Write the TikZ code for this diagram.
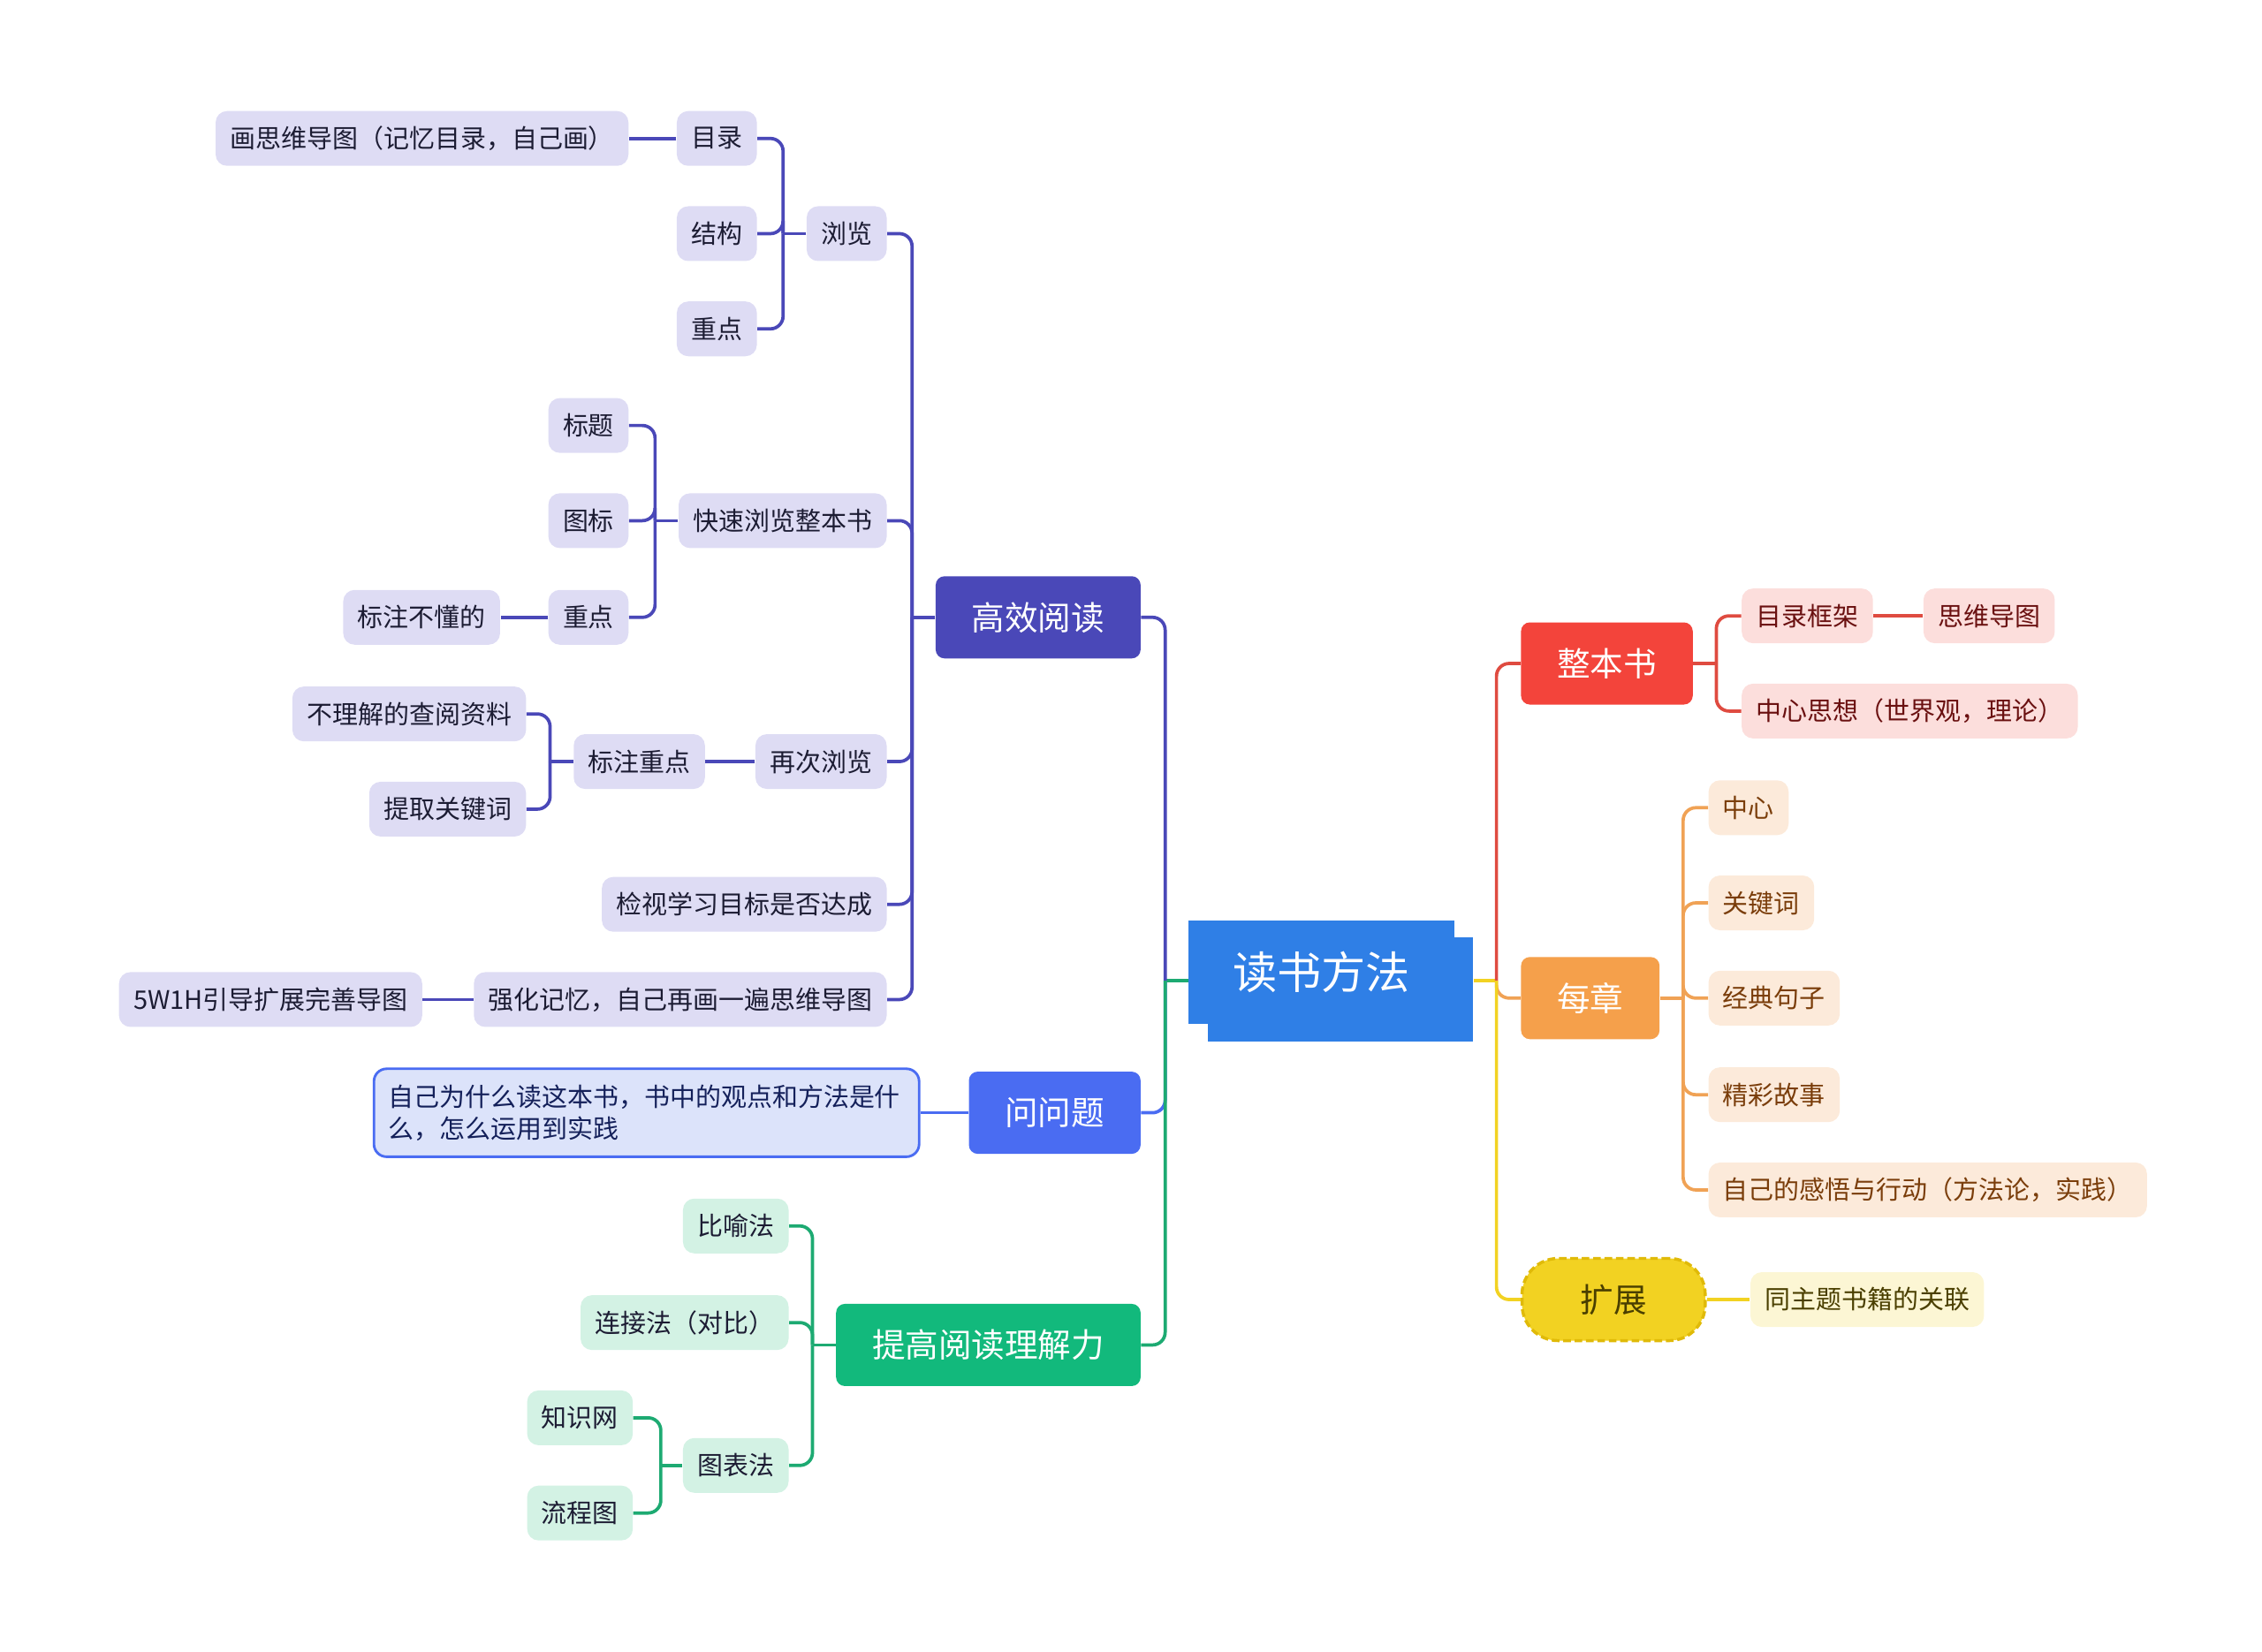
\documentclass[tikz,border=0pt]{standalone}
\usepackage{fontspec}
\setmainfont{Noto Sans CJK SC}
\usetikzlibrary{positioning, shadows}
\definecolor{mmroot}{HTML}{2F7FE6}
\definecolor{mmindigo}{HTML}{4A48B8}
\definecolor{mmindigolt}{HTML}{DEDCF4}
\definecolor{mmblue}{HTML}{4A6CF2}
\definecolor{mmbluelt}{HTML}{DCE3FA}
\definecolor{mmbluetx}{HTML}{14205A}
\definecolor{mmgreen}{HTML}{12B97C}
\definecolor{mmgreenln}{HTML}{1DAA72}
\definecolor{mmgreenlt}{HTML}{D3F2E4}
\definecolor{mmred}{HTML}{F3443B}
\definecolor{mmredln}{HTML}{DF4B40}
\definecolor{mmredlt}{HTML}{FCDEDC}
\definecolor{mmredtx}{HTML}{6A1010}
\definecolor{mmorange}{HTML}{F5A04B}
\definecolor{mmorangeln}{HTML}{F0A255}
\definecolor{mmorangelt}{HTML}{FCEADA}
\definecolor{mmorangetx}{HTML}{7A3D0A}
\definecolor{mmyellow}{HTML}{F2D222}
\definecolor{mmyellowdk}{HTML}{E0BA08}
\definecolor{mmyellowlt}{HTML}{FCF6D4}
\definecolor{mmyellowtx}{HTML}{4A3F00}
\definecolor{mmtext}{HTML}{1C1C33}

\begin{document}
\begin{tikzpicture}[x=0.02cm, y=-0.02cm,
    rootnode/.style={fill=mmroot, text=white, font=\fontsize{17.5}{20}\selectfont,
                     minimum width=3.68cm, minimum height=1.44cm,
                     general shadow={shadow xshift=0.26cm, shadow yshift=-0.24cm, fill=mmroot}},
    mainnode/.style={rounded corners=3.5pt, text=white, font=\fontsize{13.1}{15}\selectfont,
                     minimum height=1.14cm, inner xsep=0.5cm},
    leaf/.style={rounded corners=4.5pt, font=\fontsize{10.1}{12}\selectfont,
                 minimum height=0.76cm, inner xsep=0.2cm},
    leafpurple/.style={leaf, fill=mmindigolt, text=mmtext, anchor=east},
    leafgreen/.style={leaf, fill=mmgreenlt, text=mmtext, anchor=east},
    leafred/.style={leaf, fill=mmredlt, text=mmredtx, anchor=west},
    leaforange/.style={leaf, fill=mmorangelt, text=mmorangetx, anchor=west},
    leafyellow/.style={leaf, fill=mmyellowlt, text=mmyellowtx, anchor=west},
    edg/.style={line width=1.3pt, rounded corners=5pt}]
    \useasboundingbox (0,0) rectangle (1568,1145);

    \node[rootnode] (root) at (916,674) {读书方法};

    % left side
    \node[mainnode, fill=mmindigo, anchor=east] (gxyd) at (791,428) {高效阅读};
    \node[mainnode, fill=mmblue, anchor=east] (wwt) at (791,771.5) {问问题};
    \node[mainnode, fill=mmgreen, anchor=east] (tgld) at (791,932.5) {提高阅读理解力};

    \node[leafpurple] (ll) at (615,162) {浏览};
    \node[leafpurple] (ksll) at (615,361) {快速浏览整本书};
    \node[leafpurple] (zcll) at (615,528) {再次浏览};
    \node[leafpurple] (jsmb) at (615,627) {检视学习目标是否达成};
    \node[leafpurple] (qhjy) at (615,693) {强化记忆，自己再画一遍思维导图};
    \node[leafpurple] (ml) at (525,96) {目录};
    \node[leafpurple] (jg) at (525,162) {结构};
    \node[leafpurple] (zdA) at (525,228) {重点};
    \node[leafpurple] (hsw) at (436,96) {画思维导图（记忆目录，自己画）};
    \node[leafpurple] (bt) at (436,295) {标题};
    \node[leafpurple] (tb) at (436,361) {图标};
    \node[leafpurple] (zdB) at (436,428) {重点};
    \node[leafpurple] (bzbd) at (347,428) {标注不懂的};
    \node[leafpurple] (bzzd) at (489,528) {标注重点};
    \node[leafpurple] (bljd) at (365,495) {不理解的查阅资料};
    \node[leafpurple] (tqgj) at (365,561) {提取关键词};
    \node[leafpurple] (wyh) at (293,693) {5W1H引导扩展完善导图};

    \node[leaf, fill=mmbluelt, draw=mmblue, line width=1pt, text=mmbluetx, anchor=east,
          rounded corners=5pt, minimum height=1.22cm, text width=7.16cm, align=left,
          font=\fontsize{10.1}{12.5}\selectfont] (wtq) at (638,771.5)
          {自己为什么读这本书，书中的观点和方法是什\\么，怎么运用到实践};

    \node[leafgreen] (byf) at (547,850) {比喻法};
    \node[leafgreen] (ljf) at (547,917) {连接法（对比）};
    \node[leafgreen] (tbf) at (547,1016) {图表法};
    \node[leafgreen] (zsw) at (439,983) {知识网};
    \node[leafgreen] (lct) at (439,1049) {流程图};

    % right side
    \node[mainnode, fill=mmred, anchor=west] (zbs) at (1054,460) {整本书};
    \node[mainnode, fill=mmorange, anchor=west] (mz) at (1054,692) {每章};
    \node[mainnode, fill=mmyellow, draw=mmyellowdk, dashed, line width=1.2pt,
          dash pattern=on 3pt off 1.5pt, text=mmyellowtx, rounded corners=0.5cm,
          minimum width=2.54cm, anchor=west] (kz) at (1054,901) {扩展};

    \node[leafred] (mlkj) at (1207,427) {目录框架};
    \node[leafred] (swdt) at (1333,427) {思维导图};
    \node[leafred] (zxsx) at (1207,493) {中心思想（世界观，理论）};

    \node[leaforange] (zx) at (1184,560) {中心};
    \node[leaforange] (gjc) at (1184,626) {关键词};
    \node[leaforange] (jdjz) at (1184,692) {经典句子};
    \node[leaforange] (jcgs) at (1184,759) {精彩故事};
    \node[leaforange] (zjgw) at (1184,825) {自己的感悟与行动（方法论，实践）};

    \node[leafyellow] (tzt) at (1213,901) {同主题书籍的关联};

    % connectors, left
    \draw[edg, draw=mmgreenln] ([yshift=-0.12cm]root.west) -- ++(-16,0) coordinate (rootL);
    \draw[edg, draw=mmindigo] (rootL) |- (gxyd.east);
    \draw[edg, draw=mmblue] (rootL) |- (wwt.east);
    \draw[edg, draw=mmgreenln] (rootL) |- (tgld.east);

    \draw[edg, draw=mmindigo] (gxyd.west) -- ++(-16,0) coordinate (gxydJ);
    \foreach \kid in {ll, ksll, zcll, jsmb, qhjy}
      \draw[edg, draw=mmindigo] (gxydJ) |- (\kid.east);
    \draw[edg, draw=mmindigo] (ll.west) -- ++(-16,0) coordinate (llJ);
    \foreach \kid in {ml, jg, zdA}
      \draw[edg, draw=mmindigo] (llJ) |- (\kid.east);
    \draw[edg, draw=mmindigo] (ksll.west) -- ++(-16,0) coordinate (ksllJ);
    \foreach \kid in {bt, tb, zdB}
      \draw[edg, draw=mmindigo] (ksllJ) |- (\kid.east);
    \draw[edg, draw=mmindigo] (bzzd.west) -- ++(-16,0) coordinate (bzzdJ);
    \foreach \kid in {bljd, tqgj}
      \draw[edg, draw=mmindigo] (bzzdJ) |- (\kid.east);
    \draw[edg, draw=mmindigo] (ml.west) -- (hsw.east);
    \draw[edg, draw=mmindigo] (zdB.west) -- (bzbd.east);
    \draw[edg, draw=mmindigo] (zcll.west) -- (bzzd.east);
    \draw[edg, draw=mmindigo] (qhjy.west) -- (wyh.east);

    \draw[edg, draw=mmblue] (wwt.west) -- (wtq.east);

    \draw[edg, draw=mmgreenln] (tgld.west) -- ++(-16,0) coordinate (tgldJ);
    \foreach \kid in {byf, ljf, tbf}
      \draw[edg, draw=mmgreenln] (tgldJ) |- (\kid.east);
    \draw[edg, draw=mmgreenln] (tbf.west) -- ++(-15,0) coordinate (tbfJ);
    \foreach \kid in {zsw, lct}
      \draw[edg, draw=mmgreenln] (tbfJ) |- (\kid.east);

    % connectors, right
    \draw[edg, draw=mmyellow] ([xshift=0.26cm, yshift=-0.12cm]root.east) -- ++(16,0) coordinate (rootR);
    \draw[edg, draw=mmredln] (rootR) |- (zbs.west);
    \draw[edg, draw=mmorangeln] (rootR) |- (mz.west);
    \draw[edg, draw=mmyellow] (rootR) |- (kz.west);

    \draw[edg, draw=mmredln] (zbs.east) -- ++(16,0) coordinate (zbsJ);
    \foreach \kid in {mlkj, zxsx}
      \draw[edg, draw=mmredln] (zbsJ) |- (\kid.west);
    \draw[edg, draw=mmredln] (mlkj.east) -- (swdt.west);
    \draw[edg, draw=mmorangeln] (mz.east) -- ++(16,0) coordinate (mzJ);
    \foreach \kid in {zx, gjc, jdjz, jcgs, zjgw}
      \draw[edg, draw=mmorangeln] (mzJ) |- (\kid.west);
    \draw[edg, draw=mmyellow] (kz.east) -- (tzt.west);
\end{tikzpicture}
\end{document}
